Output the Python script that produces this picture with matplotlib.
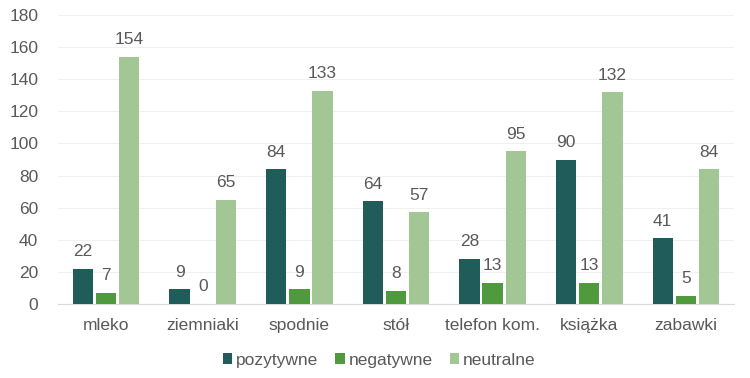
import matplotlib.pyplot as plt
import numpy as np

plt.rcParams['font.family'] = ['Liberation Sans', 'DejaVu Sans']

categories = ['mleko', 'ziemniaki', 'spodnie', 'stół', 'telefon kom.', 'książka', 'zabawki']
pozytywne = [22, 9, 84, 64, 28, 90, 41]
negatywne = [7, 0, 9, 8, 13, 13, 5]
neutralne = [154, 65, 133, 57, 95, 132, 84]

series = [
    ('pozytywne', pozytywne, '#1f5c5a'),
    ('negatywne', negatywne, '#4f9a3c'),
    ('neutralne', neutralne, '#a2c795'),
]

text_color = '#595959'
x = np.arange(len(categories))
width = 0.21
offsets = [-0.24, 0, 0.24]

fig = plt.figure(figsize=(7.5, 3.78), dpi=100)
ax = fig.add_axes([0.077, 0.196, 0.902, 0.764])

for (name, vals, color), off in zip(series, offsets):
    bars = ax.bar(x + off, vals, width=width, color=color, label=name, zorder=3)
    for b, v in zip(bars, vals):
        ax.text(b.get_x() + b.get_width() / 2, v + 6, str(v), ha='center', va='bottom',
                fontsize=12.5, color=text_color)

ax.set_xlim(-0.5, len(categories) - 0.5)
ax.set_ylim(0, 180)
ax.set_yticks(range(0, 181, 20))
ax.set_xticks(x)
ax.set_xticklabels(categories)
ax.tick_params(axis='both', length=0, labelsize=12.5, labelcolor=text_color)
ax.tick_params(axis='x', pad=10)
ax.tick_params(axis='y', pad=14)
ax.grid(axis='y', color='#f0f0f0', linewidth=0.8, zorder=0)
for s in ['top', 'right', 'left']:
    ax.spines[s].set_visible(False)
ax.spines['bottom'].set_color('#d9d9d9')

ax.legend(loc='upper center', bbox_to_anchor=(0.475, -0.115), ncol=3, frameon=False,
          fontsize=12.5, labelcolor=text_color, handlelength=0.55, handleheight=0.55,
          handletextpad=0.2, columnspacing=1.0)

fig.savefig('out.png', dpi=100)
